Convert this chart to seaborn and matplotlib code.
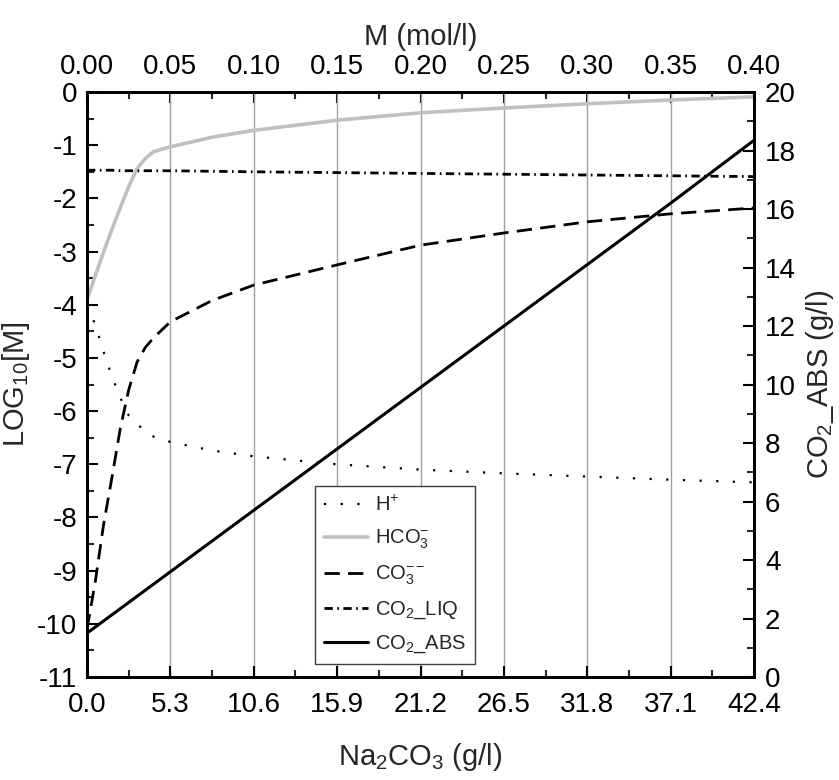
import numpy as np
import pandas as pd
import seaborn as sns
import matplotlib.pyplot as plt
from matplotlib.ticker import MultipleLocator

sns.set_style("ticks")
plt.rcParams['font.family'] = ['Liberation Sans', 'DejaVu Sans']
plt.rcParams['mathtext.fontset'] = 'custom'
plt.rcParams['mathtext.rm'] = 'Liberation Sans'
plt.rcParams['mathtext.it'] = 'Liberation Sans'
plt.rcParams['mathtext.default'] = 'regular'
plt.rcParams['axes.unicode_minus'] = False

# Na2CO3 concentration (mol/l)
m_grid = [0, 0.005, 0.01, 0.015, 0.02, 0.025, 0.03, 0.035, 0.04, 0.05,
          0.075, 0.1, 0.15, 0.2, 0.25, 0.3, 0.35, 0.4]

# log10 of species concentration
h_plus = [-4.0, -4.38, -4.89, -5.35, -5.75, -6.08, -6.24, -6.38, -6.48, -6.58,
          -6.74, -6.85, -7.0, -7.10, -7.17, -7.23, -7.29, -7.34]
hco3 = [-3.91, -3.45, -3.0, -2.58, -2.17, -1.78, -1.44, -1.25, -1.12, -1.03,
        -0.85, -0.72, -0.53, -0.39, -0.30, -0.22, -0.15, -0.09]
co3 = [-10.1, -9.2, -8.12, -7.24, -6.32, -5.6, -5.08, -4.80, -4.62, -4.32,
       -3.92, -3.63, -3.25, -2.88, -2.65, -2.44, -2.29, -2.18]
co2_liq = [-1.47, -1.47, -1.47, -1.47, -1.48, -1.48, -1.48, -1.48, -1.48, -1.48,
           -1.49, -1.50, -1.515, -1.53, -1.545, -1.56, -1.575, -1.59]

# absorbed CO2 (g/l), right axis
m_abs = [0, 0.05, 0.1, 0.15, 0.2, 0.25, 0.3, 0.35, 0.4]
co2_abs = [1.5, 3.6, 5.7, 7.8, 9.9, 12.0, 14.1, 16.2, 18.35]

bottom_ticks = [0, 0.05, 0.1, 0.15, 0.2, 0.25, 0.3, 0.35, 0.4]
bottom_labels = ["0.0", "5.3", "10.6", "15.9", "21.2", "26.5", "31.8", "37.1", "42.4"]
top_labels = ["0.00", "0.05", "0.10", "0.15", "0.20", "0.25", "0.30", "0.35", "0.40"]

fig = plt.figure(figsize=(8.39, 7.80), dpi=100)
ax = fig.add_axes([0.1037, 0.132, 0.795, 0.750])
ax2 = ax.twinx()

fs_tick = 20
fs_lab = 21

sns.lineplot(x=m_grid, y=h_plus, ax=ax, color="black", linewidth=1.6,
             linestyle=(0, (1, 6.5)), label="H$^{+}$", legend=False)
sns.lineplot(x=m_grid, y=hco3, ax=ax, color="#c0c0c0", linewidth=2.6,
             label="HCO$_3^{-}$", legend=False)
sns.lineplot(x=m_grid, y=co3, ax=ax, color="black", linewidth=2.0,
             linestyle=(0, (5.5, 3)), label="CO$_3^{--}$", legend=False)
sns.lineplot(x=m_grid, y=co2_liq, ax=ax, color="black", linewidth=2.0,
             linestyle=(0, (3, 1.6, 0.6, 1.6)), label="CO$_2$_LIQ", legend=False)
sns.lineplot(x=m_abs, y=co2_abs, ax=ax2, color="black", linewidth=2.2,
             label="CO$_2$_ABS", legend=False)

ax.set_xlim(0, 0.4)
ax.set_ylim(-11, 0)
ax2.set_ylim(0, 20)

ax.set_xticks(bottom_ticks)
ax.set_xticklabels(bottom_labels)
ax.xaxis.set_minor_locator(MultipleLocator(0.025))
ax.yaxis.set_major_locator(MultipleLocator(1))
ax.yaxis.set_minor_locator(MultipleLocator(0.5))
ax2.yaxis.set_major_locator(MultipleLocator(2))
ax2.yaxis.set_minor_locator(MultipleLocator(1))

ax.grid(axis="x", which="major", color="#a0a0a0", linewidth=1.0)
ax.grid(axis="y", visible=False)
ax2.grid(False)

top = ax.secondary_xaxis("top")
top.set_xticks(bottom_ticks)
top.set_xticklabels(top_labels)
top.xaxis.set_minor_locator(MultipleLocator(0.025))
top.set_xlabel("M (mol/l)", fontsize=fs_lab, labelpad=6)

for a in (ax, ax2, top):
    a.tick_params(which="major", direction="in", length=8, width=1.5,
                  labelsize=fs_tick, colors="black")
    a.tick_params(which="minor", direction="in", length=5, width=1.5)
    for s in a.spines.values():
        s.set_linewidth(2)
        s.set_color("black")
ax.tick_params(axis="y", pad=7)
ax.tick_params(axis="x", pad=11)
top.tick_params(axis="x", pad=9)
ax2.tick_params(axis="y", pad=8)

ax.set_xlabel("Na$_2$CO$_3$ (g/l)", fontsize=fs_lab, labelpad=16)
ax.set_ylabel("LOG$_{10}$[M]", fontsize=fs_lab)
ax.yaxis.set_label_coords(-0.082, 0.5)
ax2.set_ylabel("CO$_2$_ABS (g/l)", fontsize=fs_lab, labelpad=6)

handles = ax.get_lines()[:4] + ax2.get_lines()[:1]
labels = [h.get_label() for h in handles]
leg = ax2.legend(handles, labels, loc="upper left", bbox_to_anchor=(0.342, 0.326),
                 fontsize=14.5, frameon=True, fancybox=False, handlelength=2.2,
                 handletextpad=0.3, labelspacing=0.62, borderpad=0.45,
                 borderaxespad=0)
leg.get_frame().set_edgecolor("#404040")
leg.get_frame().set_linewidth(1.0)
leg.get_frame().set_alpha(1)

fig.savefig("out.png", dpi=100)
